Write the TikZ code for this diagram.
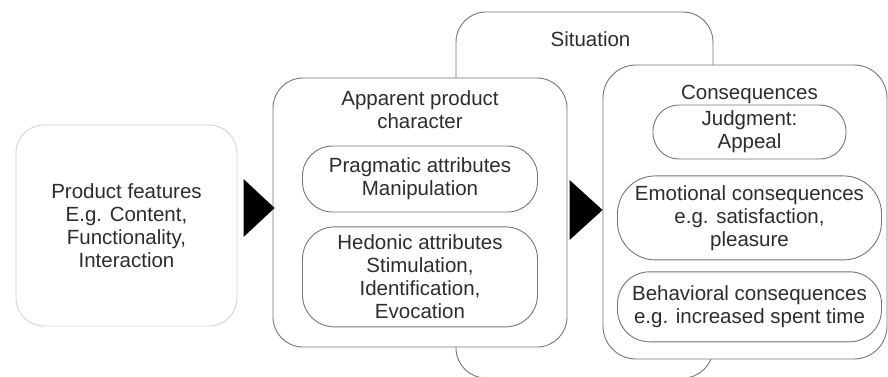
\documentclass[tikz,border=0pt]{standalone}
\usepackage{fontspec}
\setmainfont{Liberation Sans}
\usepackage{xcolor}
\usepackage{tikz}
\usetikzlibrary{shapes.geometric, arrows, positioning}

\definecolor{framegray}{RGB}{118,118,118}
\definecolor{palegray}{RGB}{212,212,212}
\definecolor{inkgray}{RGB}{45,45,45}

\begin{document}
\begin{tikzpicture}[x=1pt, y=-1pt, node distance=14pt]
        \tikzstyle{frame} = [rectangle, rounded corners=30pt, inner sep=0pt, draw=framegray, fill=white, line width=0.9pt, text=inkgray, align=center, font=\fontsize{20.5}{23}\selectfont]
        \tikzstyle{pill} = [frame, minimum width=235pt]
        \tikzstyle{title} = [inner sep=0pt, text=inkgray, align=center, font=\fontsize{20.5}{23}\selectfont]
        \tikzstyle{pointer} = [fill=black]

        \useasboundingbox (0,0) rectangle (888,376);
        \clip (0,0) rectangle (888,376);

        % outer frames
        \node (situation) [frame, minimum width=257pt, minimum height=366pt] at (584.5,195) {};
        \node (situationtitle) [title, below=20pt of situation.north, xshift=6pt] {Situation};

        \node (features) [frame, draw=palegray, rounded corners=28pt, minimum width=221pt, minimum height=201pt] at (126.5,225.5) {Product features\\E.g. Content,\\Functionality,\\Interaction};

        \node (apparent) [frame, minimum width=294pt, minimum height=269pt] at (420,212.5) {};
        \node (apparenttitle) [title, below=13pt of apparent.north] {Apparent product\\character};
        \node (pragmatic) [pill, minimum height=66pt, below=68pt of apparent.north] {Pragmatic attributes\\Manipulation};
        \node (hedonic) [pill, minimum height=100pt, rounded corners=32pt, below=of pragmatic] {Hedonic attributes\\Stimulation,\\Identification,\\Evocation};

        \node (consequences) [frame, rounded corners=33pt, minimum width=284pt, minimum height=294pt] at (745,212) {};
        \node (consequencestitle) [title, below=20pt of consequences.north, xshift=4.5pt] {Consequences};
        \node (judgment) [pill, minimum width=193pt, minimum height=54pt, rounded corners=26pt, below=40pt of consequences.north, xshift=4.5pt] {Judgment:\\Appeal};
        \node (emotional) [pill, minimum width=264pt, minimum height=84pt, rounded corners=38pt, below=16pt of judgment] {Emotional consequences\\e.g. satisfaction,\\pleasure};
        \node (behavioral) [pill, minimum width=264pt, minimum height=70pt, rounded corners=32pt, below=11pt of emotional] {Behavioral consequences\\e.g. increased spent time};

        % flow pointers
        \fill [pointer] ([shift={(2,-4.5)}]apparent.west) -- ++(-31,-29) -- ++(0,58) -- cycle;
        \fill [pointer] ([shift={(0,-2)}]consequences.west) -- ++(-33,-30) -- ++(0,60) -- cycle;
    \end{tikzpicture}
\end{document}
